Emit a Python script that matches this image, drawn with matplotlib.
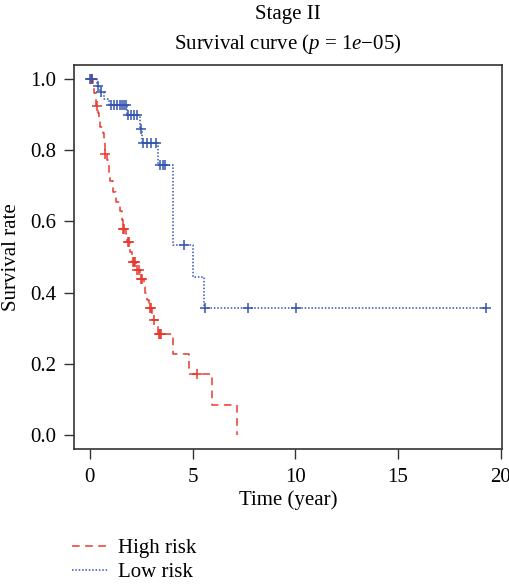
import numpy as np
import matplotlib
matplotlib.use("Agg")
import matplotlib.pyplot as plt
from matplotlib.lines import Line2D

plt.rcParams['font.family'] = ['Liberation Serif', 'DejaVu Serif']
plt.rcParams['mathtext.fontset'] = 'custom'
plt.rcParams['mathtext.rm'] = 'Liberation Serif'
plt.rcParams['mathtext.it'] = 'Liberation Serif:italic'

# ---- data ----
high_event_t = [0.15, 0.22, 0.30, 0.32, 0.42, 0.47, 0.50, 0.62, 0.70, 0.74, 0.75,
                0.85, 0.92, 0.95, 1.00, 1.15, 1.28, 1.45, 1.56, 1.60, 1.75, 1.82,
                1.96, 2.05, 2.25, 2.45, 2.62, 2.68, 2.80, 2.90, 3.05, 3.30, 4.07,
                4.85, 5.93, 7.15]
high_event_s = [0.981, 0.962, 0.943, 0.924, 0.905, 0.886, 0.867, 0.848, 0.829, 0.810, 0.791,
                0.772, 0.753, 0.734, 0.715, 0.683, 0.655, 0.630, 0.605, 0.578, 0.560, 0.542,
                0.515, 0.486, 0.463, 0.439, 0.415, 0.398, 0.378, 0.357, 0.323, 0.283, 0.226,
                0.170, 0.085, 0.0]
high_censor_t = [0.05, 0.12, 0.33, 0.76, 1.62, 1.67, 1.85, 1.90, 2.10, 2.14, 2.18,
                 2.30, 2.38, 2.48, 2.55, 2.93, 2.98, 3.12, 3.36, 3.42, 3.47, 5.20]

low_event_t = [0.35, 0.50, 0.70, 0.95, 1.80, 2.45, 2.52, 3.30, 4.05, 5.00, 5.56]
low_event_s = [0.982, 0.964, 0.945, 0.927, 0.899, 0.861, 0.820, 0.760, 0.535, 0.445, 0.356]
low_censor_t = [0.03, 0.12, 0.42, 0.55, 1.05, 1.20, 1.32, 1.45, 1.55, 1.65, 1.75,
                1.88, 2.02, 2.15, 2.30, 2.47, 2.58, 2.80, 3.00, 3.22, 3.42, 3.55, 3.68,
                4.60, 5.60, 7.70, 10.05, 19.30]

labels = ["High risk", "Low risk"]

RED = '#e8392e'
BLUE = '#3454ae'
FS = 15

fig = plt.figure(figsize=(5.09, 5.88), dpi=100)
ax = fig.add_axes([74/509, 1-449/588, (502-74)/509, (449-65)/588])

def surv_at(t, et, es):
    et = np.asarray(et); es = np.asarray(es)
    idx = np.searchsorted(et, t, side='right') - 1
    return np.where(idx >= 0, es[np.clip(idx, 0, None)], 1.0)

def draw(et, es, ct, color, dashes, end_t=None):
    x = np.concatenate([[0.0], et])
    y = np.concatenate([[1.0], es])
    if end_t is not None and end_t > x[-1]:
        x = np.append(x, end_t); y = np.append(y, y[-1])
    line, = ax.step(x, y, where='post', color=color, lw=1.1)
    line.set_dashes(dashes)
    cy = surv_at(np.asarray(ct), et, es)
    ax.plot(ct, cy, ls='none', marker='+', ms=7, mew=1.1, color=color)

draw(high_event_t, high_event_s, high_censor_t, RED, (5.0, 3.6))
draw(low_event_t, low_event_s, low_censor_t, BLUE, (1, 1.2), end_t=max(low_censor_t))

ax.set_xlim(-0.77, 20.07)
ax.set_ylim(-0.04, 1.04)
ax.set_xticks([0, 5, 10, 15, 20])
ax.set_yticks([0.0, 0.2, 0.4, 0.6, 0.8, 1.0])
ax.set_yticklabels(['0.0', '0.2', '0.4', '0.6', '0.8', '1.0'])
ax.tick_params(axis='both', labelsize=FS, length=7, width=1, color='#333333')
ax.tick_params(axis='x', pad=7)
ax.tick_params(axis='y', pad=6)
for s in ax.spines.values():
    s.set_linewidth(1.2)
    s.set_color('#333333')

ax.set_xlabel("Time (year)", fontsize=FS, labelpad=2)
ax.set_ylabel("Survival rate", fontsize=FS, labelpad=6)

fig.text(288/509, 1-14/588, "Stage II", ha='center', va='center', fontsize=FS)
fig.text(288/509, 1-44/588, "Survival curve ($p$ = 1$e$\u221205)", ha='center', va='center', fontsize=FS)

handles = [Line2D([], [], color=RED, lw=1.1, dashes=(5.0, 3.6)),
           Line2D([], [], color=BLUE, lw=1.1, dashes=(1, 1.2))]
fig.legend(handles, labels, loc='center left', bbox_to_anchor=(72/509, 1-560.5/588),
           frameon=False, fontsize=FS, handlelength=1.75, handletextpad=0.45,
           borderpad=0, borderaxespad=0, labelspacing=0.2)

fig.savefig("out.png", dpi=100)
